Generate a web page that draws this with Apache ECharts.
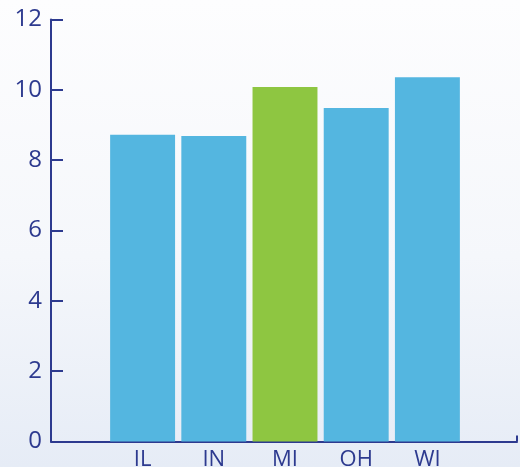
<!DOCTYPE html>
<html>
<head>
<meta charset="utf-8">
<script src="https://cdn.jsdelivr.net/npm/echarts@6/dist/echarts.min.js"></script>
<style>
  html, body { margin: 0; padding: 0; }
  body { background: linear-gradient(to bottom, #fdfdfe 0%, #f5f7fb 55%, #e6ecf6 100%); }
  #chart { width: 520px; height: 467px; }
</style>
</head>
<body>
<div id="chart"></div>
<script>
// States and their values
const states = ['IL', 'IN', 'MI', 'OH', 'WI'];
const values = [8.72, 8.69, 10.08, 9.48, 10.36];
const highlightState = 'MI';
const yTicks = [0, 2, 4, 6, 8, 10, 12];

const axisColor = '#2d3a8f';
const barBlue = '#54b6e0';
const barGreen = '#8ec641';
const fontFamily = '"Open Sans", "Noto Sans", sans-serif';

const chart = echarts.init(document.getElementById('chart'), null, { renderer: 'canvas' });

const gridTop = 19.5, gridBottom = 25.5;

chart.setOption({
  backgroundColor: 'transparent',
  animation: false,
  grid: [
    // frame grid: carries the y axis and the baseline
    { left: 51, right: 3, top: gridTop, bottom: gridBottom, outerBoundsMode: 'none', containLabel: false },
    // bar grid: holds the categories
    { left: 107, width: 356, top: gridTop, bottom: gridBottom, outerBoundsMode: 'none', containLabel: false }
  ],
  xAxis: [
    {
      gridIndex: 0, type: 'value', min: 0, max: 1, interval: 1,
      axisLine: { show: true, lineStyle: { color: axisColor, width: 2 } },
      axisTick: { show: true, inside: true, length: 6, lineStyle: { color: axisColor, width: 2 } },
      axisLabel: { show: false },
      splitLine: { show: false }
    },
    {
      gridIndex: 1, type: 'category', data: states,
      axisLine: { show: false },
      axisTick: { show: false },
      axisLabel: { color: axisColor, fontSize: 22, fontFamily: fontFamily, margin: 7 }
    }
  ],
  yAxis: [
    {
      gridIndex: 0, type: 'value', min: yTicks[0], max: yTicks[yTicks.length - 1], interval: 2,
      axisLine: { show: true, lineStyle: { color: axisColor, width: 2 } },
      axisTick: { show: true, inside: true, length: 12, lineStyle: { color: axisColor, width: 2 } },
      axisLabel: { color: axisColor, fontSize: 24, fontFamily: fontFamily, margin: 9 },
      splitLine: { show: false }
    },
    {
      gridIndex: 1, type: 'value', min: yTicks[0], max: yTicks[yTicks.length - 1],
      show: false, splitLine: { show: false }
    }
  ],
  series: [
    {
      type: 'bar',
      xAxisIndex: 1, yAxisIndex: 1,
      barCategoryGap: '8.8%',
      data: states.map((s, i) => ({
        value: values[i],
        itemStyle: { color: s === highlightState ? barGreen : barBlue }
      }))
    }
  ]
});
</script>
</body>
</html>
